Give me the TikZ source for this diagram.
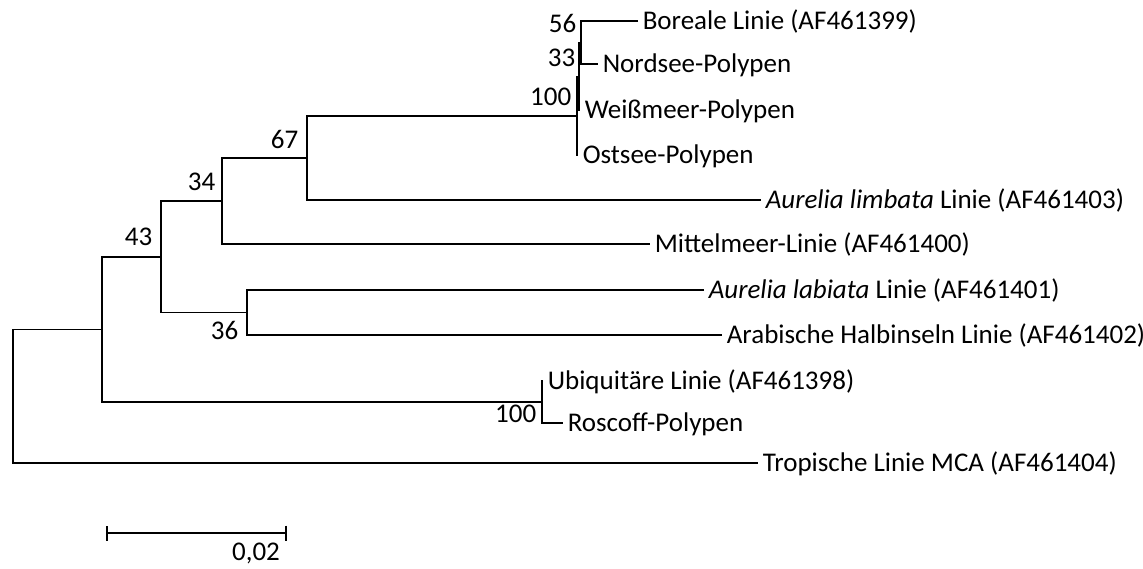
\documentclass[tikz,border=0pt]{standalone}
\usepackage{fontspec}
\setmainfont{Carlito}
\usetikzlibrary{arrows.meta}

\begin{document}
\begin{tikzpicture}[x=1pt, y=-1pt, line width=1.6pt,
    leaf/.style={anchor=west, inner xsep=4pt, inner ysep=0pt,
                 text height=22pt, text depth=5pt,
                 font=\fontsize{27}{31}\selectfont},
    boot/.style={anchor=east, inner sep=0pt, font=\fontsize{27}{31}\selectfont}]

	\useasboundingbox (0,0) rectangle (1143,568);

	% leaves (west anchor = tip of the branch)
	\node[leaf] (boreale) at (638,  21) {Boreale Linie (AF461399)};
	\node[leaf] (nordsee) at (598,  64) {Nordsee-Polypen};
	\node[leaf] (weiss)   at (580, 110) {Weißmeer-Polypen};
	\node[leaf] (ostsee)  at (578, 155) {Ostsee-Polypen};
	\node[leaf] (limbata) at (761, 200) {\textit{Aurelia limbata} Linie (AF461403)};
	\node[leaf] (mittel)  at (650, 244) {Mittelmeer-Linie (AF461400)};
	\node[leaf] (labiata) at (704, 290) {\textit{Aurelia labiata} Linie (AF461401)};
	\node[leaf] (arab)    at (722, 335) {Arabische Halbinseln Linie (AF461402)};
	\node[leaf] (ubiq)    at (543, 381) {Ubiquitäre Linie (AF461398)};
	\node[leaf] (roscoff) at (563, 423) {Roscoff-Polypen};
	\node[leaf] (trop)    at (758, 463) {Tropische Linie MCA (AF461404)};

	% inner nodes
	\coordinate (n56)   at (581,  42.5);
	\coordinate (n33)   at (579,  76.5);
	\coordinate (n100a) at (577, 116);
	\coordinate (n67)   at (307, 158);
	\coordinate (n34)   at (222, 201);
	\coordinate (n43)   at (161, 257);
	\coordinate (n36)   at (247, 312.5);
	\coordinate (n100b) at (542, 402);
	\coordinate (nA)    at (102, 329.5);
	\coordinate (root)  at ( 13, 396);

	% branches
	\draw (boreale.west) -| (n56) |- (nordsee.west);
	\draw (n56) -| (n33) |- (weiss.west);
	\draw (n33) -| (n100a) |- (ostsee.west);
	\draw (n100a) -| (n67) |- (limbata.west);
	\draw (n67) -| (n34) |- (mittel.west);
	\draw (labiata.west) -| (n36) |- (arab.west);
	\draw (n34) -| (n43) |- (n36);
	\draw (ubiq.west) -| (n100b) |- (roscoff.west);
	\draw (n43) -| (nA) |- (n100b);
	\draw (nA) -| (root) |- (trop.west);

	% bootstrap values
	\node[boot] (b56)   at (577,  23) {56};
	\node[boot] (b33)   at (576,  58) {33};
	\node[boot] (b100a) at (572,  97) {100};
	\node[boot] (b67)   at (299, 139) {67};
	\node[boot] (b34)   at (216, 182) {34};
	\node[boot] (b43)   at (153, 237) {43};
	\node[boot] (b36)   at (239, 330) {36};
	\node[boot] (b100b) at (537, 414) {100};

	% scale bar
	\coordinate (s0) at (106, 533);
	\coordinate (s1) at (287, 533);
	\draw[{Bar[width=15pt]}-{Bar[width=15pt]}] (s0) -- (s1);
	\node[font=\fontsize{27}{31}\selectfont, inner sep=0pt] (scale) at (256, 553) {0,02};

\end{tikzpicture}
\end{document}
